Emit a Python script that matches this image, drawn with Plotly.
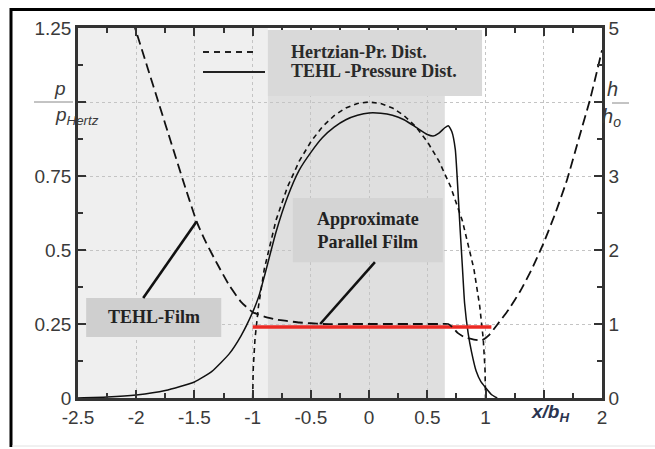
import plotly.graph_objects as go

# ---------------- data ----------------
hertz_x = [-1.0, -0.995, -0.98, -0.95, -0.9, -0.8, -0.7, -0.6, -0.5, -0.4, -0.3, -0.2, -0.1, 0.0,
           0.1, 0.2, 0.3, 0.4, 0.5, 0.6, 0.7, 0.8, 0.9, 0.95, 0.98, 0.995, 1.0]
hertz_p = [0.0, 0.10, 0.20, 0.31, 0.436, 0.60, 0.714, 0.80, 0.866, 0.917, 0.954, 0.98, 0.995, 1.0,
           0.995, 0.98, 0.954, 0.917, 0.866, 0.80, 0.714, 0.60, 0.436, 0.31, 0.20, 0.10, 0.0]

tehl_x = [-2.5, -2.25, -2.0, -1.75, -1.5, -1.35, -1.2, -1.1, -1.0, -0.95, -0.9, -0.8, -0.7, -0.6,
          -0.5, -0.4, -0.3, -0.2, -0.1, 0.0, 0.1, 0.2, 0.3, 0.4, 0.5, 0.55, 0.6, 0.65, 0.68, 0.71,
          0.74, 0.76, 0.78, 0.80, 0.82, 0.85, 0.88, 0.92, 0.96, 1.0, 1.05, 1.1]
tehl_p = [0.0, 0.003, 0.01, 0.025, 0.054, 0.09, 0.15, 0.21, 0.29, 0.34, 0.41, 0.56, 0.68, 0.77,
          0.83, 0.88, 0.915, 0.94, 0.955, 0.963, 0.962, 0.955, 0.94, 0.915, 0.89, 0.885, 0.895,
          0.913, 0.92, 0.90, 0.84, 0.72, 0.58, 0.45, 0.32, 0.22, 0.155, 0.09, 0.055, 0.035, 0.012, 0.0]

film_x = [-2.03, -1.9, -1.8, -1.7, -1.6, -1.48, -1.4, -1.3, -1.2, -1.1, -1.0, -0.9, -0.8, -0.7,
          -0.6, -0.5, -0.4, -0.2, 0.0, 0.2, 0.4, 0.6, 0.68, 0.72, 0.76, 0.82, 0.9, 0.97, 1.03, 1.1,
          1.2, 1.3, 1.4, 1.5, 1.6, 1.7, 1.8, 1.9, 2.0]
film_h = [5.1, 4.45, 3.95, 3.45, 2.95, 2.38, 2.1, 1.8, 1.52, 1.3, 1.16, 1.1, 1.06, 1.04,
          1.02, 1.01, 1.0, 1.0, 1.0, 1.0, 1.0, 1.0, 1.0, 0.95, 0.88, 0.82, 0.79, 0.78, 0.85, 0.99,
          1.2, 1.45, 1.75, 2.1, 2.5, 2.95, 3.5, 4.05, 4.7]

parallel_x = [-1.0, 1.05]
parallel_p = [0.24, 0.24]

x_tickvals = [-2.5, -2, -1.5, -1, -0.5, 0, 0.5, 1, 1.5, 2]
x_ticktext = ["-2.5", "-2", "-1.5", "-1", "-0.5", "0", "0.5", "1", " ", "2"]
y_tickvals = [0, 0.25, 0.5, 0.75, 1.0, 1.25]
y_ticktext = ["0", "0.25", "0.5", "0.75", " ", "1.25"]
y2_tickvals = [0, 1, 2, 3, 4, 5]
y2_ticktext = ["0", "1", "2", "3", " ", "5"]

legend_labels = ["Hertzian-Pr. Dist.", "TEHL -Pressure Dist."]

# ---------------- figure ----------------
W, H = 655, 449
ML, MR, MT, MB = 78, 53, 28, 51
PW, PH = W - ML - MR, H - MT - MB


def px(xp):
    return (xp - ML) / PW


def py(yp):
    return (H - MB - yp) / PH


fig = go.Figure()
fig.add_trace(go.Scatter(x=hertz_x, y=hertz_p, mode="lines",
                         line=dict(color="#111111", width=1.6, dash="5px,4px"),
                         showlegend=False))
fig.add_trace(go.Scatter(x=tehl_x, y=tehl_p, mode="lines",
                         line=dict(color="#111111", width=1.5, shape="spline", smoothing=0.5),
                         showlegend=False))
fig.add_trace(go.Scatter(x=film_x, y=film_h, mode="lines", yaxis="y2",
                         line=dict(color="#111111", width=1.8, dash="10px,5px", shape="spline",
                                   smoothing=0.5),
                         showlegend=False))
fig.add_trace(go.Scatter(x=parallel_x, y=parallel_p, mode="lines",
                         line=dict(color="#ec2a24", width=3.5), showlegend=False))

shapes = []
# background regions
shapes.append(dict(type="rect", xref="x", yref="y", x0=-2.5, x1=-0.87, y0=0, y1=1.25,
                   fillcolor="#efefef", line=dict(width=0), layer="below"))
shapes.append(dict(type="rect", xref="x", yref="y", x0=-0.87, x1=0.65, y0=0, y1=1.02,
                   fillcolor="#dfdfdf", line=dict(width=0), layer="below"))
# legend box
shapes.append(dict(type="rect", xref="x", yref="y", x0=-0.87, x1=0.97, y0=1.02, y1=1.243,
                   fillcolor="#d9d9d9", line=dict(width=0), layer="above"))
# label boxes
shapes.append(dict(type="rect", xref="x", yref="y", x0=-2.43, x1=-1.27, y0=0.206, y1=0.338,
                   fillcolor="#cfcfcf", line=dict(width=0), layer="above"))
shapes.append(dict(type="rect", xref="x", yref="y", x0=-0.655, x1=0.633, y0=0.459, y1=0.676,
                   fillcolor="#d4d4d4", line=dict(width=0), layer="above"))
# pointer lines
shapes.append(dict(type="line", xref="x", yref="y", x0=-1.94, y0=0.338, x1=-1.48, y1=0.597,
                   line=dict(color="#111111", width=2.6), layer="above"))
shapes.append(dict(type="line", xref="x", yref="y", x0=0.05, y0=0.459, x1=-0.42, y1=0.25,
                   line=dict(color="#111111", width=2.6), layer="above"))
# legend samples
shapes.append(dict(type="line", xref="paper", yref="paper", x0=px(203), x1=px(258),
                   y0=py(52), y1=py(52), line=dict(color="#222222", width=1.8, dash="6px,5px"),
                   layer="above"))
shapes.append(dict(type="line", xref="paper", yref="paper", x0=px(203), x1=px(265),
                   y0=py(72), y1=py(72), line=dict(color="#222222", width=2), layer="above"))
# fraction bars
shapes.append(dict(type="line", xref="paper", yref="paper", x0=px(34), x1=px(73),
                   y0=py(102), y1=py(102), line=dict(color="#888888", width=1)))
shapes.append(dict(type="line", xref="paper", yref="paper", x0=px(612), x1=px(629),
                   y0=py(103), y1=py(103), line=dict(color="#888888", width=1)))
# outer frame
shapes.append(dict(type="line", xref="paper", yref="paper", x0=px(11), x1=px(11),
                   y0=py(447), y1=py(8), line=dict(color="#000000", width=3)))
shapes.append(dict(type="line", xref="paper", yref="paper", x0=px(10), x1=px(656),
                   y0=py(9.5), y1=py(9.5), line=dict(color="#000000", width=3)))
shapes.append(dict(type="line", xref="paper", yref="paper", x0=px(12), x1=px(656),
                   y0=py(446), y1=py(446), line=dict(color="#e2e2e2", width=1)))

serif = "Liberation Serif"
sans = "Liberation Sans"
ann = []
ann.append(dict(x=-1.85, y=0.272, xref="x", yref="y", text="<b>TEHL-Film</b>", showarrow=False,
                font=dict(family=serif, size=18, color="#222222")))
ann.append(dict(x=-0.01, y=0.567, xref="x", yref="y", text="<b>Approximate<br>Parallel Film</b>",
                showarrow=False, font=dict(family=serif, size=18, color="#222222")))
ann.append(dict(x=px(289), y=py(52), xref="paper", yref="paper", text="<b>" + legend_labels[0] + "</b>",
                xanchor="left", yanchor="middle", showarrow=False,
                font=dict(family=serif, size=18, color="#2a2a2a")))
ann.append(dict(x=px(289), y=py(71), xref="paper", yref="paper", text="<b>" + legend_labels[1] + "</b>",
                xanchor="left", yanchor="middle", showarrow=False,
                font=dict(family=serif, size=18, color="#2a2a2a")))
# axis title fractions
ann.append(dict(x=px(53), y=py(100), xref="paper", yref="paper", text="<i>p</i>", showarrow=False,
                yanchor="bottom", borderpad=0,
                font=dict(family=sans, size=19, color="#3a3a3a")))
ann.append(dict(x=px(54), y=py(103), xref="paper", yref="paper",
                text="<i>p<sub>Hertz</sub></i>", showarrow=False, yanchor="top", borderpad=0,
                font=dict(family=sans, size=19, color="#3a3a3a")))
ann.append(dict(x=px(619), y=py(101), xref="paper", yref="paper", text="<i>h</i>", showarrow=False,
                yanchor="bottom", borderpad=0,
                font=dict(family=sans, size=20, color="#3a3a3a")))
ann.append(dict(x=px(622), y=py(104), xref="paper", yref="paper", text="<i>h<sub>o</sub></i>",
                showarrow=False, yanchor="top", borderpad=0,
                font=dict(family=sans, size=20, color="#3a3a3a")))
ann.append(dict(x=1.55, y=py(427), xref="x", yref="paper", text="<b><i>x/b<sub>H</sub></i></b>",
                showarrow=False, font=dict(family=sans, size=19, color="#2b3550")))

axis_common = dict(showline=True, linecolor="#333333", linewidth=2.5, ticks="inside",
                   tickcolor="#333333", tickwidth=1.5, ticklen=8, automargin=False,
                   tickfont=dict(family=sans, size=19, color="#3a3a3a"), zeroline=False)

fig.update_layout(
    width=W, height=H, template="none",
    margin=dict(l=ML, r=MR, t=MT, b=MB, pad=0),
    paper_bgcolor="#ffffff", plot_bgcolor="#ffffff",
    showlegend=False,
    shapes=shapes, annotations=ann,
    xaxis=dict(range=[-2.5, 2], tickvals=x_tickvals, ticktext=x_ticktext, mirror="ticks",
               showgrid=True, gridcolor="#c4c4c4", gridwidth=1, griddash="dot",
               minor=dict(ticks="inside", ticklen=5, dtick=0.25, tick0=0, tickcolor="#333333",
                          tickwidth=1.5, showgrid=False),
               **axis_common),
    yaxis=dict(range=[0, 1.25], tickvals=y_tickvals, ticktext=y_ticktext,
               showgrid=True, gridcolor="#c4c4c4", gridwidth=1, griddash="dot",
               minor=dict(ticks="inside", ticklen=5, dtick=0.125, tick0=0, tickcolor="#333333",
                          tickwidth=1.5, showgrid=False),
               **axis_common),
    yaxis2=dict(range=[0, 5], tickvals=y2_tickvals, ticktext=y2_ticktext, overlaying="y",
                side="right", showgrid=False,
                minor=dict(ticks="inside", ticklen=5, dtick=0.5, tick0=0, tickcolor="#333333",
                           tickwidth=1.5, showgrid=False),
                **axis_common),
)

fig.write_html("out.html", config={"displayModeBar": False},
               post_script="document.body.style.margin='0px';document.body.style.padding='0px';")
